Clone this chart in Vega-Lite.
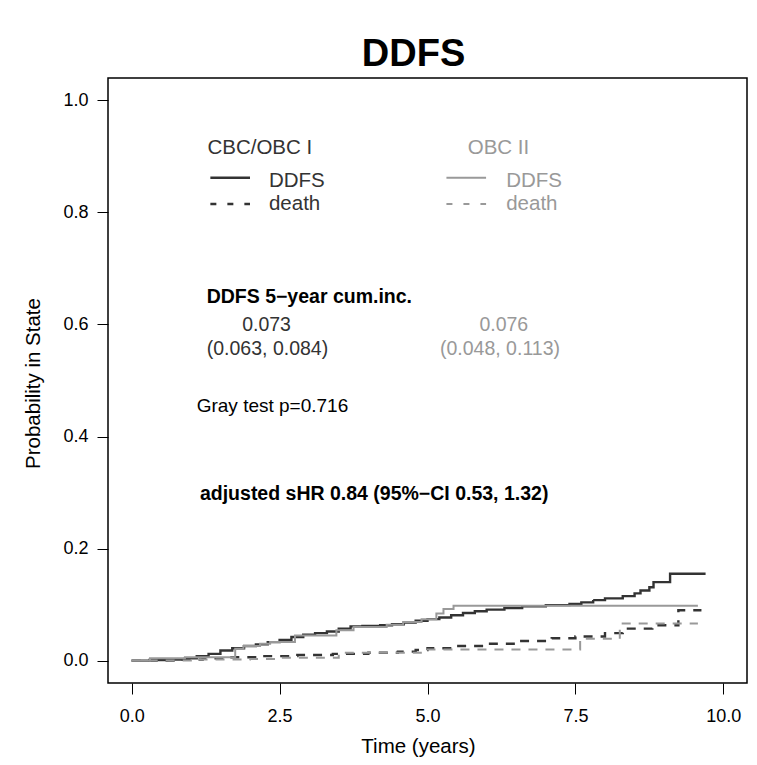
{
  "$schema": "https://vega.github.io/schema/vega-lite/v6.json",
  "width": 639,
  "height": 605,
  "autosize": {"type": "none"},
  "padding": {"left": 108, "top": 78, "right": 10, "bottom": 82},
  "background": "white",
  "title": {"text": "DDFS", "fontSize": 38, "font": "Liberation Sans", "fontWeight": "bold", "color": "black", "baseline": "alphabetic", "offset": 11, "dy": 37, "anchor": "middle", "dx": -14},
  "config": {
    "view": {"stroke": "black", "strokeWidth": 1.5},
    "font": "Liberation Sans"
  },
  "datasets": {
    "curves": [
      {"t":0,"p":0,"arm":"CBC/OBC I","state":"DDFS"},
      {"t":0.3,"p":0.001,"arm":"CBC/OBC I","state":"DDFS"},
      {"t":0.6,"p":0.002,"arm":"CBC/OBC I","state":"DDFS"},
      {"t":0.9,"p":0.004,"arm":"CBC/OBC I","state":"DDFS"},
      {"t":1.1,"p":0.008,"arm":"CBC/OBC I","state":"DDFS"},
      {"t":1.3,"p":0.012,"arm":"CBC/OBC I","state":"DDFS"},
      {"t":1.5,"p":0.018,"arm":"CBC/OBC I","state":"DDFS"},
      {"t":1.7,"p":0.022,"arm":"CBC/OBC I","state":"DDFS"},
      {"t":1.9,"p":0.026,"arm":"CBC/OBC I","state":"DDFS"},
      {"t":2.1,"p":0.029,"arm":"CBC/OBC I","state":"DDFS"},
      {"t":2.3,"p":0.033,"arm":"CBC/OBC I","state":"DDFS"},
      {"t":2.5,"p":0.037,"arm":"CBC/OBC I","state":"DDFS"},
      {"t":2.7,"p":0.042,"arm":"CBC/OBC I","state":"DDFS"},
      {"t":2.9,"p":0.046,"arm":"CBC/OBC I","state":"DDFS"},
      {"t":3.1,"p":0.049,"arm":"CBC/OBC I","state":"DDFS"},
      {"t":3.3,"p":0.052,"arm":"CBC/OBC I","state":"DDFS"},
      {"t":3.5,"p":0.057,"arm":"CBC/OBC I","state":"DDFS"},
      {"t":3.7,"p":0.061,"arm":"CBC/OBC I","state":"DDFS"},
      {"t":3.9,"p":0.062,"arm":"CBC/OBC I","state":"DDFS"},
      {"t":4.2,"p":0.063,"arm":"CBC/OBC I","state":"DDFS"},
      {"t":4.4,"p":0.065,"arm":"CBC/OBC I","state":"DDFS"},
      {"t":4.6,"p":0.068,"arm":"CBC/OBC I","state":"DDFS"},
      {"t":4.8,"p":0.071,"arm":"CBC/OBC I","state":"DDFS"},
      {"t":5.0,"p":0.074,"arm":"CBC/OBC I","state":"DDFS"},
      {"t":5.2,"p":0.077,"arm":"CBC/OBC I","state":"DDFS"},
      {"t":5.4,"p":0.081,"arm":"CBC/OBC I","state":"DDFS"},
      {"t":5.6,"p":0.085,"arm":"CBC/OBC I","state":"DDFS"},
      {"t":5.8,"p":0.088,"arm":"CBC/OBC I","state":"DDFS"},
      {"t":6.0,"p":0.091,"arm":"CBC/OBC I","state":"DDFS"},
      {"t":6.3,"p":0.094,"arm":"CBC/OBC I","state":"DDFS"},
      {"t":6.6,"p":0.097,"arm":"CBC/OBC I","state":"DDFS"},
      {"t":7.0,"p":0.099,"arm":"CBC/OBC I","state":"DDFS"},
      {"t":7.4,"p":0.101,"arm":"CBC/OBC I","state":"DDFS"},
      {"t":7.6,"p":0.104,"arm":"CBC/OBC I","state":"DDFS"},
      {"t":7.8,"p":0.108,"arm":"CBC/OBC I","state":"DDFS"},
      {"t":8.0,"p":0.111,"arm":"CBC/OBC I","state":"DDFS"},
      {"t":8.3,"p":0.115,"arm":"CBC/OBC I","state":"DDFS"},
      {"t":8.5,"p":0.120,"arm":"CBC/OBC I","state":"DDFS"},
      {"t":8.6,"p":0.125,"arm":"CBC/OBC I","state":"DDFS"},
      {"t":8.75,"p":0.131,"arm":"CBC/OBC I","state":"DDFS"},
      {"t":8.82,"p":0.140,"arm":"CBC/OBC I","state":"DDFS"},
      {"t":9.1,"p":0.155,"arm":"CBC/OBC I","state":"DDFS"},
      {"t":9.7,"p":0.155,"arm":"CBC/OBC I","state":"DDFS"},
      {"t":0,"p":0,"arm":"CBC/OBC I","state":"death"},
      {"t":0.8,"p":0.002,"arm":"CBC/OBC I","state":"death"},
      {"t":1.2,"p":0.004,"arm":"CBC/OBC I","state":"death"},
      {"t":1.6,"p":0.006,"arm":"CBC/OBC I","state":"death"},
      {"t":2.2,"p":0.008,"arm":"CBC/OBC I","state":"death"},
      {"t":2.8,"p":0.010,"arm":"CBC/OBC I","state":"death"},
      {"t":3.4,"p":0.012,"arm":"CBC/OBC I","state":"death"},
      {"t":4.0,"p":0.014,"arm":"CBC/OBC I","state":"death"},
      {"t":4.5,"p":0.016,"arm":"CBC/OBC I","state":"death"},
      {"t":4.8,"p":0.019,"arm":"CBC/OBC I","state":"death"},
      {"t":5.0,"p":0.022,"arm":"CBC/OBC I","state":"death"},
      {"t":5.5,"p":0.026,"arm":"CBC/OBC I","state":"death"},
      {"t":6.0,"p":0.030,"arm":"CBC/OBC I","state":"death"},
      {"t":6.5,"p":0.035,"arm":"CBC/OBC I","state":"death"},
      {"t":7.1,"p":0.040,"arm":"CBC/OBC I","state":"death"},
      {"t":7.5,"p":0.043,"arm":"CBC/OBC I","state":"death"},
      {"t":8.0,"p":0.049,"arm":"CBC/OBC I","state":"death"},
      {"t":8.3,"p":0.057,"arm":"CBC/OBC I","state":"death"},
      {"t":8.8,"p":0.063,"arm":"CBC/OBC I","state":"death"},
      {"t":9.24,"p":0.090,"arm":"CBC/OBC I","state":"death"},
      {"t":9.63,"p":0.090,"arm":"CBC/OBC I","state":"death"},
      {"t":0,"p":0,"arm":"OBC II","state":"DDFS"},
      {"t":0.31,"p":0.004,"arm":"OBC II","state":"DDFS"},
      {"t":0.9,"p":0.006,"arm":"OBC II","state":"DDFS"},
      {"t":1.75,"p":0.021,"arm":"OBC II","state":"DDFS"},
      {"t":1.89,"p":0.026,"arm":"OBC II","state":"DDFS"},
      {"t":2.17,"p":0.030,"arm":"OBC II","state":"DDFS"},
      {"t":2.34,"p":0.033,"arm":"OBC II","state":"DDFS"},
      {"t":2.76,"p":0.045,"arm":"OBC II","state":"DDFS"},
      {"t":3.46,"p":0.054,"arm":"OBC II","state":"DDFS"},
      {"t":3.75,"p":0.060,"arm":"OBC II","state":"DDFS"},
      {"t":4.31,"p":0.064,"arm":"OBC II","state":"DDFS"},
      {"t":4.59,"p":0.069,"arm":"OBC II","state":"DDFS"},
      {"t":4.9,"p":0.074,"arm":"OBC II","state":"DDFS"},
      {"t":5.15,"p":0.084,"arm":"OBC II","state":"DDFS"},
      {"t":5.27,"p":0.092,"arm":"OBC II","state":"DDFS"},
      {"t":5.44,"p":0.098,"arm":"OBC II","state":"DDFS"},
      {"t":9.57,"p":0.098,"arm":"OBC II","state":"DDFS"},
      {"t":0,"p":0,"arm":"OBC II","state":"death"},
      {"t":1.0,"p":0.002,"arm":"OBC II","state":"death"},
      {"t":2.0,"p":0.003,"arm":"OBC II","state":"death"},
      {"t":2.5,"p":0.005,"arm":"OBC II","state":"death"},
      {"t":3.5,"p":0.014,"arm":"OBC II","state":"death"},
      {"t":5.0,"p":0.020,"arm":"OBC II","state":"death"},
      {"t":7.58,"p":0.039,"arm":"OBC II","state":"death"},
      {"t":8.25,"p":0.066,"arm":"OBC II","state":"death"},
      {"t":9.57,"p":0.066,"arm":"OBC II","state":"death"}
    ],
    "keys": [
      {"t":1.33,"t2":2.0,"p":0.862,"arm":"CBC/OBC I","state":"DDFS"},
      {"t":1.33,"t2":2.0,"p":0.815,"arm":"CBC/OBC I","state":"death"},
      {"t":5.32,"t2":5.99,"p":0.862,"arm":"OBC II","state":"DDFS"},
      {"t":5.32,"t2":5.99,"p":0.815,"arm":"OBC II","state":"death"}
    ],
    "legendLeft": [
      {"t":1.28,"p":0.9035,"text":"CBC/OBC I","arm":"CBC/OBC I"},
      {"t":2.32,"p":0.846,"text":"DDFS","arm":"CBC/OBC I"},
      {"t":2.32,"p":0.804,"text":"death","arm":"CBC/OBC I"},
      {"t":6.33,"p":0.846,"text":"DDFS","arm":"OBC II"},
      {"t":6.33,"p":0.804,"text":"death","arm":"OBC II"}
    ],
    "legendCenter": [
      {"t":6.2,"p":0.9035,"text":"OBC II","arm":"OBC II"}
    ],
    "leftLabels": [
      {"t":1.099,"p":0.4446,"text":"Gray test p=0.716","arm":"note"}
    ],
    "centerLabels": [
      {"t":2.28,"p":0.5875,"text":"0.073","arm":"CBC/OBC I"},
      {"t":2.295,"p":0.5455,"text":"(0.063, 0.084)","arm":"CBC/OBC I"},
      {"t":6.29,"p":0.5875,"text":"0.076","arm":"OBC II"},
      {"t":6.225,"p":0.5455,"text":"(0.048, 0.113)","arm":"OBC II"}
    ],
    "boldLabels": [
      {"t":1.267,"p":0.6375,"text":"DDFS 5−year cum.inc.","arm":"note"},
      {"t":1.154,"p":0.2875,"text":"adjusted sHR 0.84 (95%−CI 0.53, 1.32)","arm":"note"}
    ]
  },
  "resolve": {"scale": {"strokeDash": "independent"}},
  "layer": [
    {
      "data": {"name": "curves"},
      "mark": {"type": "line", "interpolate": "step-after"},
      "encoding": {
        "x": {"field": "t", "type": "quantitative",
          "scale": {"domain": [-0.4, 10.4], "nice": false, "zero": false},
          "axis": {"values": [0, 2.5, 5, 7.5, 10], "format": ".1f", "title": "Time (years)", "grid": false, "domain": false,
            "tickSize": 11, "tickColor": "black", "tickWidth": 1, "labelFontSize": 18, "labelColor": "black", "labelPadding": 13,
            "labelFont": "Liberation Sans", "titleFont": "Liberation Sans", "titleFontSize": 20.5, "titleFontWeight": "normal", "titleColor": "black", "titlePadding": 11, "titleX": 310}},
        "y": {"field": "p", "type": "quantitative",
          "scale": {"domain": [-0.04, 1.04], "nice": false, "zero": false},
          "axis": {"values": [0, 0.2, 0.4, 0.6, 0.8, 1.0], "format": ".1f", "title": "Probability in State", "grid": false, "domain": false,
            "tickSize": 11, "tickColor": "black", "tickWidth": 1, "labelFontSize": 18, "labelColor": "black", "labelPadding": 9,
            "labelFont": "Liberation Sans", "titleFont": "Liberation Sans", "titleFontSize": 20.5, "titleFontWeight": "normal", "titleColor": "black", "titlePadding": 19, "titleY": 305}},
        "color": {"field": "arm", "type": "nominal", "scale": {"domain": ["CBC/OBC I", "OBC II", "note"], "range": ["#333333", "#999999", "#000000"]}, "legend": null},
        "strokeDash": {"field": "state", "type": "nominal", "scale": {"domain": ["DDFS", "death"], "range": [[1, 0], [9, 8]]}, "legend": null},
        "strokeWidth": {"field": "arm", "type": "nominal", "scale": {"domain": ["CBC/OBC I", "OBC II"], "range": [2.4, 2]}, "legend": null}
      }
    },
    {
      "data": {"name": "keys"},
      "mark": {"type": "rule"},
      "encoding": {
        "x": {"field": "t", "type": "quantitative"},
        "x2": {"field": "t2"},
        "y": {"field": "p", "type": "quantitative"},
        "color": {"field": "arm", "type": "nominal", "legend": null},
        "strokeDash": {"field": "state", "type": "nominal", "scale": {"domain": ["DDFS", "death"], "range": [[1, 0], [6, 11]]}, "legend": null},
        "strokeWidth": {"field": "arm", "type": "nominal", "legend": null}
      }
    },
    {
      "data": {"name": "legendLeft"},
      "mark": {"type": "text", "align": "left", "baseline": "alphabetic", "fontSize": 20.5, "font": "Liberation Sans"},
      "encoding": {
        "x": {"field": "t", "type": "quantitative"},
        "y": {"field": "p", "type": "quantitative"},
        "text": {"field": "text"},
        "color": {"field": "arm", "type": "nominal", "legend": null}
      }
    },
    {
      "data": {"name": "legendCenter"},
      "mark": {"type": "text", "align": "center", "baseline": "alphabetic", "fontSize": 20.5, "font": "Liberation Sans"},
      "encoding": {
        "x": {"field": "t", "type": "quantitative"},
        "y": {"field": "p", "type": "quantitative"},
        "text": {"field": "text"},
        "color": {"field": "arm", "type": "nominal", "legend": null}
      }
    },
    {
      "data": {"name": "leftLabels"},
      "mark": {"type": "text", "align": "left", "baseline": "alphabetic", "fontSize": 19, "font": "Liberation Sans"},
      "encoding": {
        "x": {"field": "t", "type": "quantitative"},
        "y": {"field": "p", "type": "quantitative"},
        "text": {"field": "text"},
        "color": {"field": "arm", "type": "nominal", "legend": null}
      }
    },
    {
      "data": {"name": "centerLabels"},
      "mark": {"type": "text", "align": "center", "baseline": "alphabetic", "fontSize": 19.5, "font": "Liberation Sans"},
      "encoding": {
        "x": {"field": "t", "type": "quantitative"},
        "y": {"field": "p", "type": "quantitative"},
        "text": {"field": "text"},
        "color": {"field": "arm", "type": "nominal", "legend": null}
      }
    },
    {
      "data": {"name": "boldLabels"},
      "mark": {"type": "text", "align": "left", "baseline": "alphabetic", "fontSize": 19.5, "fontWeight": "bold", "font": "Liberation Sans"},
      "encoding": {
        "x": {"field": "t", "type": "quantitative"},
        "y": {"field": "p", "type": "quantitative"},
        "text": {"field": "text"},
        "color": {"field": "arm", "type": "nominal", "legend": null}
      }
    }
  ]
}
